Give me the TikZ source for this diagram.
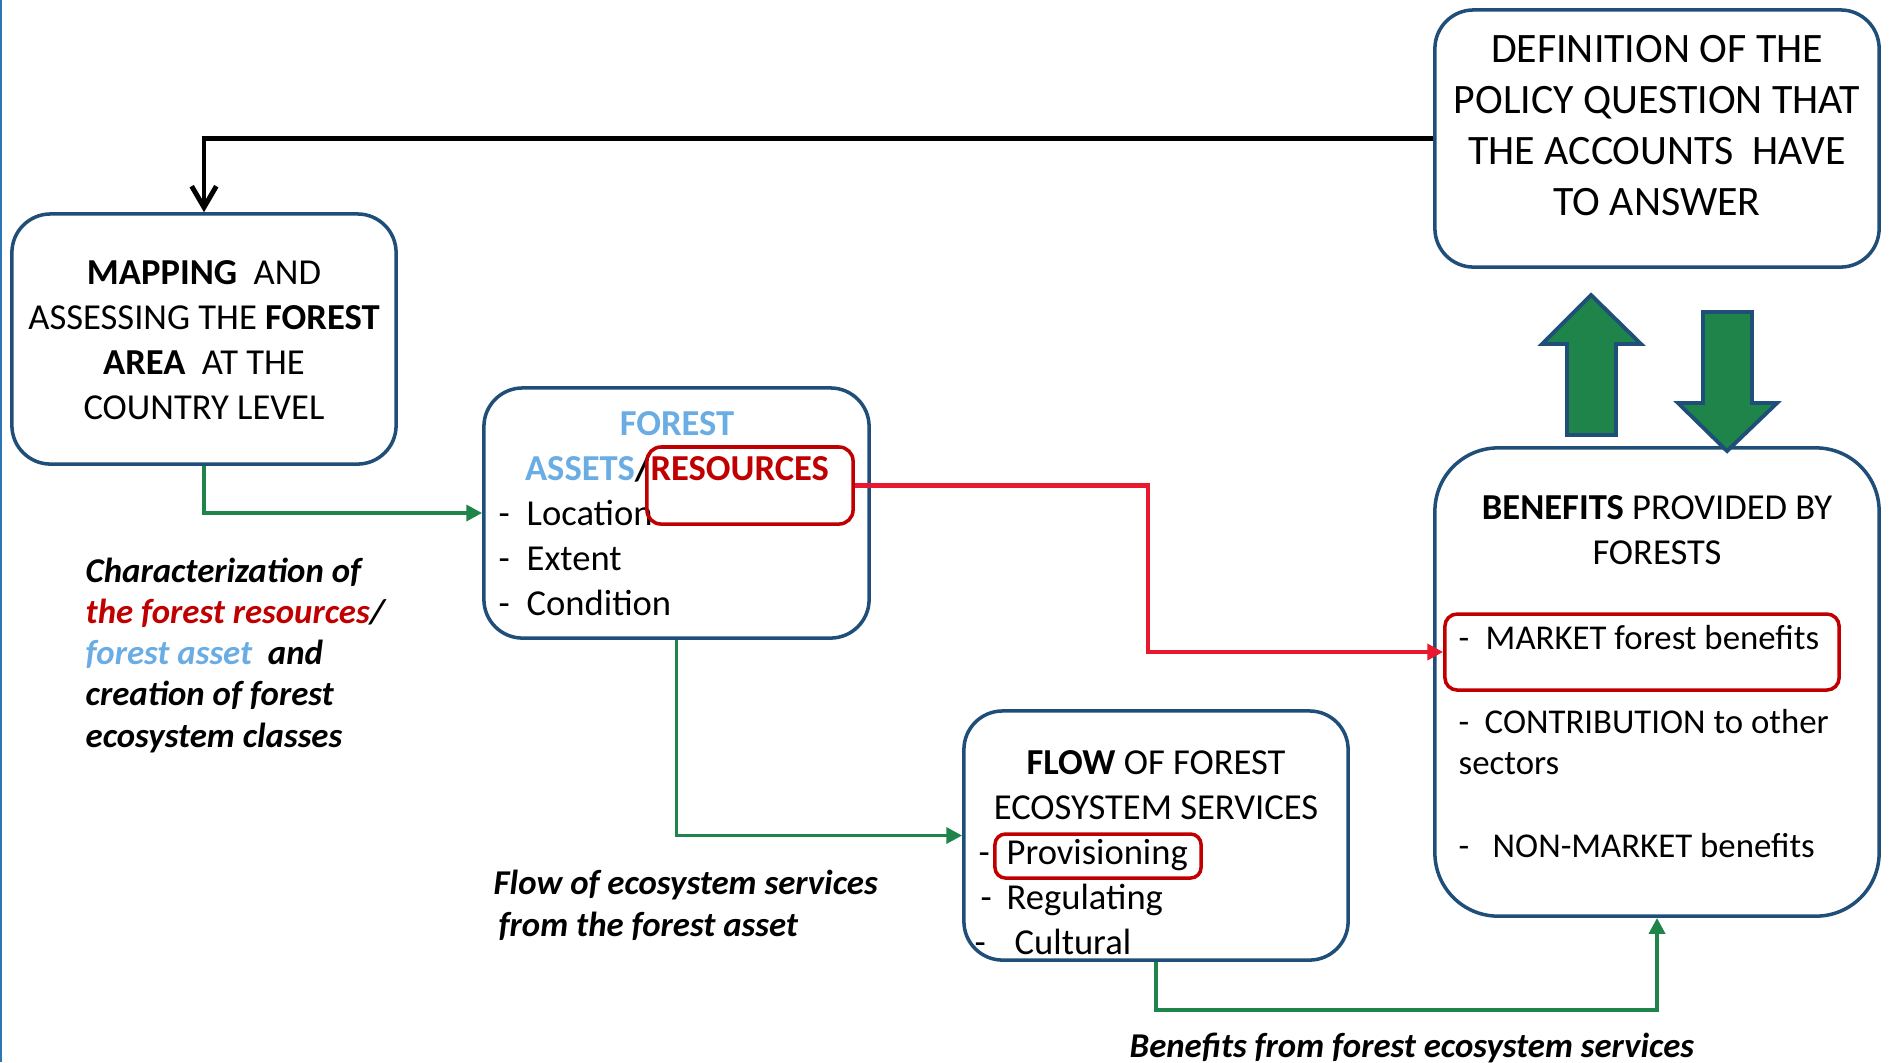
\documentclass[tikz,border=0pt]{standalone}
\usepackage{fontspec}
\setmainfont{Carlito}
\usetikzlibrary{arrows.meta}

\definecolor{boxblue}{HTML}{1F4E79}
\definecolor{assetblue}{HTML}{6AADE4}
\definecolor{resred}{HTML}{C00000}
\definecolor{linered}{HTML}{E8192F}
\definecolor{flowgreen}{HTML}{1E8449}
\definecolor{edgeblue}{HTML}{2E75B6}

\newcommand\stagefont{\fontsize{10.4}{12.8}\selectfont}
\newcommand\benefitfont{\fontsize{9.9}{12}\selectfont}
\newcommand\titlefont{\fontsize{11.9}{14.5}\selectfont}
\newcommand\remarkfont{\fontsize{9.9}{11}\selectfont\bfseries\itshape}

\begin{document}
\begin{tikzpicture}[x=0.01cm,y=-0.01cm]

\tikzset{stage/.style={draw=boxblue,line width=1pt,rounded corners=11pt,inner sep=0pt}}
\tikzset{hilite/.style={draw=resred,line width=1pt,rounded corners=4pt,inner sep=0pt}}
\tikzset{txt/.style={anchor=base,font=\stagefont,inner sep=0pt}}
\tikzset{listitem/.style={anchor=base west,font=\stagefont,inner sep=0pt}}
\tikzset{benefititem/.style={listitem,font=\benefitfont}}
\tikzset{remark/.style={anchor=base west,font=\remarkfont,inner sep=0pt}}
\tikzset{feed/.style={draw=flowgreen,line width=1.1pt,-{Triangle[length=4.5pt,width=4.5pt]}}}
\tikzset{bigarrow/.style={fill=flowgreen,draw=boxblue,line width=1.1pt}}

\useasboundingbox (0,0) rectangle (1889,1062);
\draw[edgeblue,line width=0.6pt] (1,0) -- (1,1062);

% boxes
\node[stage,minimum width=3.84cm,minimum height=2.50cm] (mapbox) at (204,339) {};
\node[stage,minimum width=4.44cm,minimum height=2.57cm] (defbox) at (1657,138.5) {};
\node[stage,minimum width=3.85cm,minimum height=2.50cm] (assetbox) at (676.5,513) {};
\node[stage,minimum width=3.84cm,minimum height=2.49cm] (flowbox) at (1156,835.5) {};
\node[stage,minimum width=4.44cm,minimum height=4.68cm,rounded corners=18pt] (benbox) at (1657,682) {};

% box texts
\foreach \t [count=\i] in {{\textbf{MAPPING}\ \ AND},{ASSESSING THE \textbf{FOREST}},{\textbf{AREA}\ \ AT THE},{COUNTRY LEVEL}}
  \node[txt] (map\i) at (204,239+45*\i) {\t};

\foreach \t [count=\i] in {DEFINITION OF THE,POLICY QUESTION THAT,THE ACCOUNTS\ \ HAVE,TO ANSWER}
  \node[txt,font=\titlefont] (def\i) at (1657,11.5+51*\i) {\t};

\node[txt,font=\stagefont\bfseries,text=assetblue] (asset1) at (677,435) {FOREST};
\node[txt,font=\stagefont\bfseries] (asset2) at (677,480) {\textcolor{assetblue}{ASSETS}/\textcolor{resred}{RESOURCES}};
\foreach \t [count=\i] in {Location,Extent,Condition} {
  \node[listitem] (adash\i) at (498,480+45*\i) {-};
  \node[listitem] (aitem\i) at (526,480+45*\i) {\t};
}

\node[txt] (flow1) at (1156,774) {\textbf{FLOW} OF FOREST};
\node[txt] (flow2) at (1156,819) {ECOSYSTEM SERVICES};
\node[listitem] (fdash1) at (978,864) {-};
\node[listitem] (fitem1) at (1006,864) {Provisioning};
\node[listitem] (fdash2) at (980,909) {-};
\node[listitem] (fitem2) at (1006,909) {Regulating};
\node[listitem] (fdash3) at (974,954) {-};
\node[listitem] (fitem3) at (1014,954) {Cultural};

\node[txt] (ben1) at (1657,519.5) {\textbf{BENEFITS} PROVIDED BY};
\node[txt] (ben2) at (1657,564.5) {FORESTS};
\node[benefititem] (bdash1) at (1458,649.5) {-};
\node[benefititem] (bitem1) at (1485,649.5) {MARKET forest benefits};
\node[benefititem] (bdash2) at (1458,733.5) {-};
\node[benefititem] (bitem2) at (1484,733.5) {CONTRIBUTION to other};
\node[benefititem] (bitem3) at (1458,774.5) {sectors};
\node[benefititem] (bdash3) at (1458,857.5) {-};
\node[benefititem] (bitem4) at (1492,857.5) {NON-MARKET benefits};

% red highlights
\node[hilite,minimum width=2.06cm,minimum height=0.77cm] (resbox) at (750,485.5) {};
\node[hilite,minimum width=2.06cm,minimum height=0.44cm,rounded corners=3pt] (provbox) at (1098,856) {};
\node[hilite,minimum width=3.94cm,minimum height=0.76cm,rounded corners=3.5pt] (marketbox) at (1642,652) {};

% remarks
\foreach \t [count=\i] in {Characterization of,{\textcolor{resred}{the forest resources}/},{\textcolor{assetblue}{forest asset}\ \ and},creation of forest,ecosystem classes}
  \node[remark] (char\i) at (85,540.7+41.3*\i) {\t};
\node[remark] (flownote1) at (493,894) {Flow of ecosystem services};
\node[remark] (flownote2) at (498,936) {from the forest asset};
\node[remark] (bennote) at (1129,1057) {Benefits from forest ecosystem services};

% connectors
\draw[line width=1.4pt,-{Straight Barb[length=6pt,width=7pt]}] (defbox.west) -| (mapbox.north);
\draw[feed] (mapbox.south) |- (assetbox.west);
\draw[feed] (assetbox.south) |- (flowbox.west);
\draw[feed] (flowbox.south) -- ++(0,48) -| (benbox.south);
\coordinate (bend) at (1148,485.5);
\draw[draw=linered,line width=1.2pt,-{Triangle[length=4.5pt,width=4.5pt]}] (resbox.east) -- (bend) |- (marketbox.west);

% block arrows
\draw[bigarrow] (1567,435) -- (1567,344) -- (1542,344) -- (1591,295) -- (1641,344) -- (1616,344) -- (1616,435) -- cycle;
\draw[bigarrow] (1703,312) -- (1752,312) -- (1752,403) -- (1777,403) -- (1727,451) -- (1678,403) -- (1703,403) -- cycle;

\end{tikzpicture}
\end{document}
